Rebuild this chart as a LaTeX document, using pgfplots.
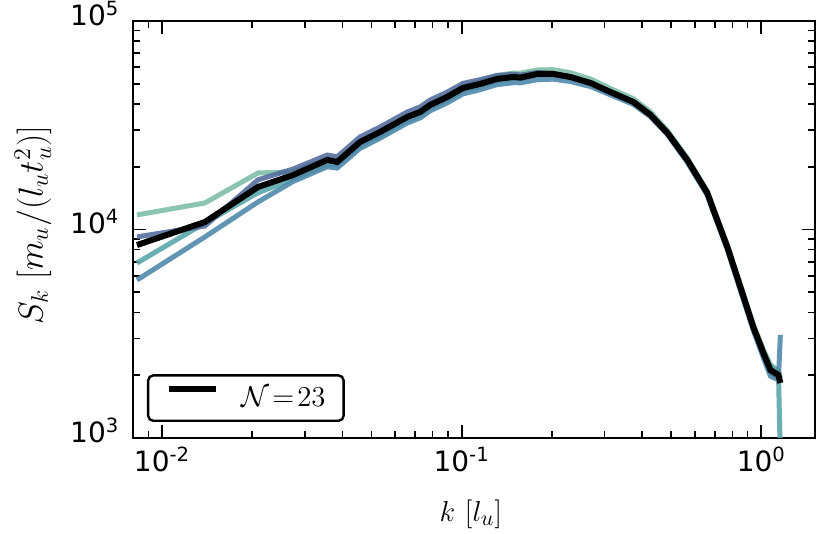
\documentclass[border=0pt]{standalone}
\usepackage[no-math]{fontspec}
\newfontfamily\dejavu{DejaVu Sans}
\usepackage{pgfplots}
\usepackage{pgfplotstable}
\pgfplotsset{compat=1.18}
\definecolor{cgreen}{HTML}{7FBFA6}
\definecolor{cteal}{HTML}{5AA6A9}
\definecolor{cdblue}{HTML}{4A6699}
\definecolor{csteel}{HTML}{4F8AAB}
\pgfplotstableread{
k      s0     sa     sb     sc     sd
0.00825 8420  11740  6910   9210   5725
0.0139 10860  13400  10750  10400  9210
0.0209 15990  18660  15000  17300  13550
0.0274 18250  18900  17500  19500  17000
0.0356 21540  21800  20600  22760  20000
0.0384 21070  21300  20300  22300  19700
0.0458 26280  26200  25300  27800  24500
0.0534 29350  29300  28200  31000  27400
0.0658 34640  34800  33300  36600  32400
0.0727 36610  36900  35300  38700  34300
0.0785 39550  40000  38300  41800  37100
0.0895 43200  43800  41900  45600  40500
0.101  47710  48500  46300  50200  44700
0.115  49860  51200  48600  52300  46800
0.131  52710  54700  51600  54800  49500
0.149  53880  56300  53000  55500  50600
0.157  53500  56200  52800  55000  50500
0.179  55700  58200  55200  56600  52300
0.202  55700  58400  55600  56000  52600
0.230  53880  56500  54200  54000  51300
0.269  50420  52700  50700  50600  48500
0.313  45650  47500  46000  45900  44300
0.374  40880  42400  41200  41000  39800
0.426  35500  36700  35800  35400  34800
0.486  29030  29800  29300  29000  28500
0.566  21540  22000  21700  21400  21000
0.660  14970  15300  15100  14800  14600
0.692  12410  12700  12500  12300  12100
0.770  8245   8450   8300   8150   8000
0.851  5300   5450   5300   5200   5100
0.940  3407   3500   3400   3350   3280
1.016  2557   2650   2550   2480   2420
1.072  2119   2250   2200   2080   1980
1.140  2005   2100   2100   1950   1900
1.157  1835   1950   800    1900   3120
}\spec
\begin{document}
\begin{tikzpicture}
\path[use as bounding box] (-66.5pt,-48pt) rectangle (349pt,219pt);
\begin{axis}[
  scale only axis, width=341pt, height=208.5pt,
  xmode=log, ymode=log,
  xmin=0.008, xmax=1.51, ymin=1000, ymax=100000,
  axis line style={line width=1.35pt},
  tick align=inside,
  xtick={0.01,0.1,1},
  xticklabels={{10\textsuperscript{-2}},{10\textsuperscript{-1}},{10\textsuperscript{0}}},
  ytick={1000,10000,100000},
  yticklabels={{10\textsuperscript{3}},{10\textsuperscript{4}},{10\textsuperscript{5}}},
  minor xtick={0.009,0.02,0.03,0.04,0.05,0.06,0.07,0.08,0.09,0.2,0.3,0.4,0.5,0.6,0.7,0.8,0.9},
  minor ytick={2000,3000,4000,5000,6000,7000,8000,9000,20000,30000,40000,50000,60000,70000,80000,90000},
  major tick length=6.5pt, minor tick length=3.5pt,
  every major tick/.append style={line width=0.9pt, black},
  every minor tick/.append style={line width=0.8pt, black},
  tick label style={font=\fontsize{14pt}{16pt}\selectfont\dejavu},
  xticklabel style={anchor=base, yshift=-17pt},
  yticklabel style={anchor=base east, xshift=-3.3pt, yshift=-2.25pt},
  label style={font=\fontsize{15.5pt}{18pt}\selectfont},
  xlabel={$k\ [l_u]$},
  ylabel={$S_k\ [m_u/(l_u t_u^2)]$},
  xlabel style={at={(0.4956,-0.1823)}, anchor=center},
  ylabel style={at={(-0.1466,0.5108)}, anchor=center, font=\fontsize{16.5pt}{19pt}\selectfont},
  legend style={at={(0,0)}, anchor=south west, xshift=7pt, yshift=8pt,
    draw=black, line width=1.2pt, rounded corners=2.5pt,
    inner xsep=9pt, inner ysep=5.5pt, column sep=11pt,
    nodes={inner sep=0pt},
    font=\fontsize{15pt}{17pt}\selectfont},
  legend image code/.code={\draw[#1] (0pt,0.45em) -- (23.5pt,0.45em);},
]
\addplot[cgreen, line width=2.5pt, opacity=0.9, forget plot] table[x=k, y=sa] {\spec};
\addplot[cteal, line width=2.5pt, opacity=0.9, forget plot] table[x=k, y=sb] {\spec};
\addplot[csteel, line width=2.5pt, opacity=0.9, forget plot] table[x=k, y=sd] {\spec};
\addplot[cdblue, line width=2.5pt, opacity=0.85, forget plot] table[x=k, y=sc] {\spec};
\addplot[black, line width=3pt] table[x=k, y=s0] {\spec};
\addlegendentry{$\mathcal{N}\mkern2mu{=}\mkern2mu23$\hspace{-3pt}}
\end{axis}
\end{tikzpicture}
\end{document}
